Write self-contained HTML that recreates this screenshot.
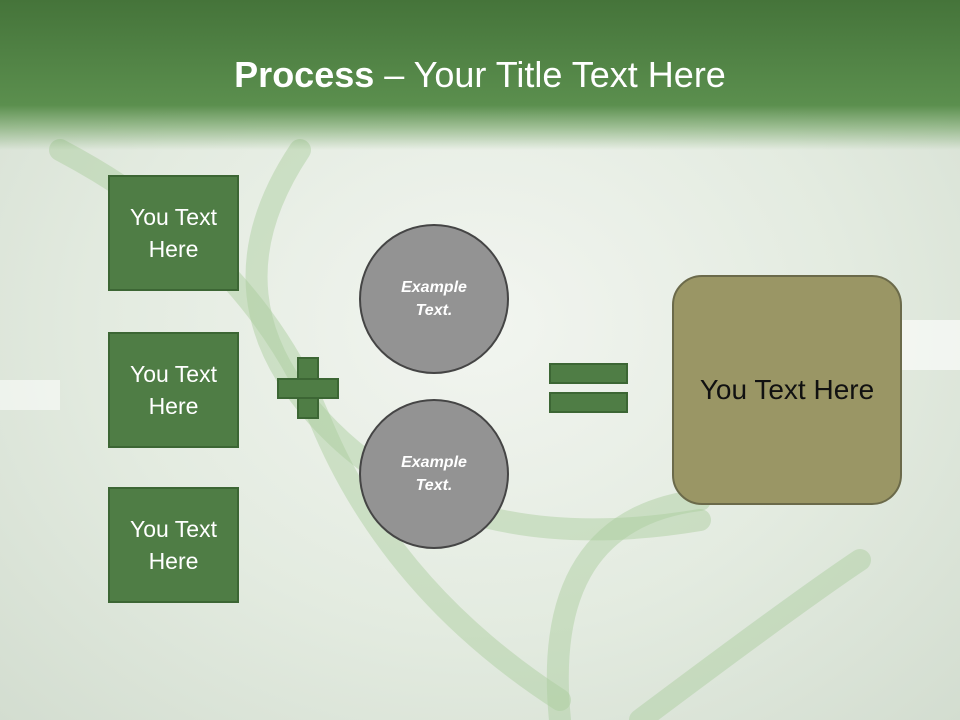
<!DOCTYPE html>
<html><head><meta charset="utf-8"><style>
body{margin:0;width:960px;height:720px;overflow:hidden;font-family:"Liberation Sans",sans-serif;}
.bg{position:absolute;left:0;top:0;width:960px;height:720px;background:radial-gradient(ellipse at 50% 45%,#f2f5f0 0%,#e3ebe0 55%,#d3ddd0 100%);}
.hdr{position:absolute;left:0;top:0;width:960px;height:150px;background:linear-gradient(#45743a 0%,#5b8f4e 70%,rgba(110,160,95,0.6) 85%,rgba(220,232,215,0) 100%);}
.title{position:absolute;left:0;top:54px;width:960px;text-align:center;color:#fff;font-size:36px;}
.box{position:absolute;left:108px;width:127px;height:112px;background:#4f7d45;border:2px solid #3c6634;color:#fff;font-size:23px;display:flex;align-items:center;justify-content:center;text-align:center;line-height:32px;}
.circ{position:absolute;left:359px;width:150px;height:150px;border-radius:50%;background:#939393;border:2px solid #454545;color:#fff;font-style:italic;font-weight:bold;font-size:16px;display:flex;align-items:center;justify-content:center;text-align:center;line-height:23px;box-sizing:border-box;}
.g{position:absolute;background:#4f7d45;border:2px solid #3c6634;box-sizing:border-box;}
.res{position:absolute;left:672px;top:275px;width:230px;height:230px;box-sizing:border-box;border-radius:30px;background:#9a9665;border:2px solid #6b6a4a;display:flex;align-items:center;justify-content:center;font-size:28px;color:#111;}
</style></head><body>
<div class="bg"></div>
<svg style="position:absolute;left:0;top:0" width="960" height="720">
<g fill="none" stroke="#a9cc9c" stroke-opacity="0.45" stroke-width="22" stroke-linecap="round">
<path d="M60 150 Q250 250 320 420 T560 700"/>
<path d="M300 150 Q200 300 330 430 T700 520"/>
<path d="M560 720 Q540 520 700 500"/>
<path d="M640 720 Q800 600 860 560"/>
</g>
<rect x="0" y="380" width="60" height="30" fill="#fff" opacity="0.5"/>
<rect x="900" y="320" width="60" height="50" fill="#fff" opacity="0.6"/>
</svg>
<div class="hdr"></div>
<div class="title"><b>Process</b> – Your Title Text Here</div>
<div class="box" style="top:175px">You Text<br>Here</div>
<div class="box" style="top:332px">You Text<br>Here</div>
<div class="box" style="top:487px">You Text<br>Here</div>
<div class="g" style="left:297px;top:357px;width:22px;height:62px"></div>
<div class="g" style="left:277px;top:378px;width:62px;height:21px"></div>
<div class="g" style="left:297px;top:380px;width:22px;height:17px;border:none"></div>
<div class="circ" style="top:224px">Example<br>Text.</div>
<div class="circ" style="top:399px">Example<br>Text.</div>
<div class="g" style="left:549px;top:363px;width:79px;height:21px"></div>
<div class="g" style="left:549px;top:392px;width:79px;height:21px"></div>
<div class="res">You Text Here</div>
</body></html>
